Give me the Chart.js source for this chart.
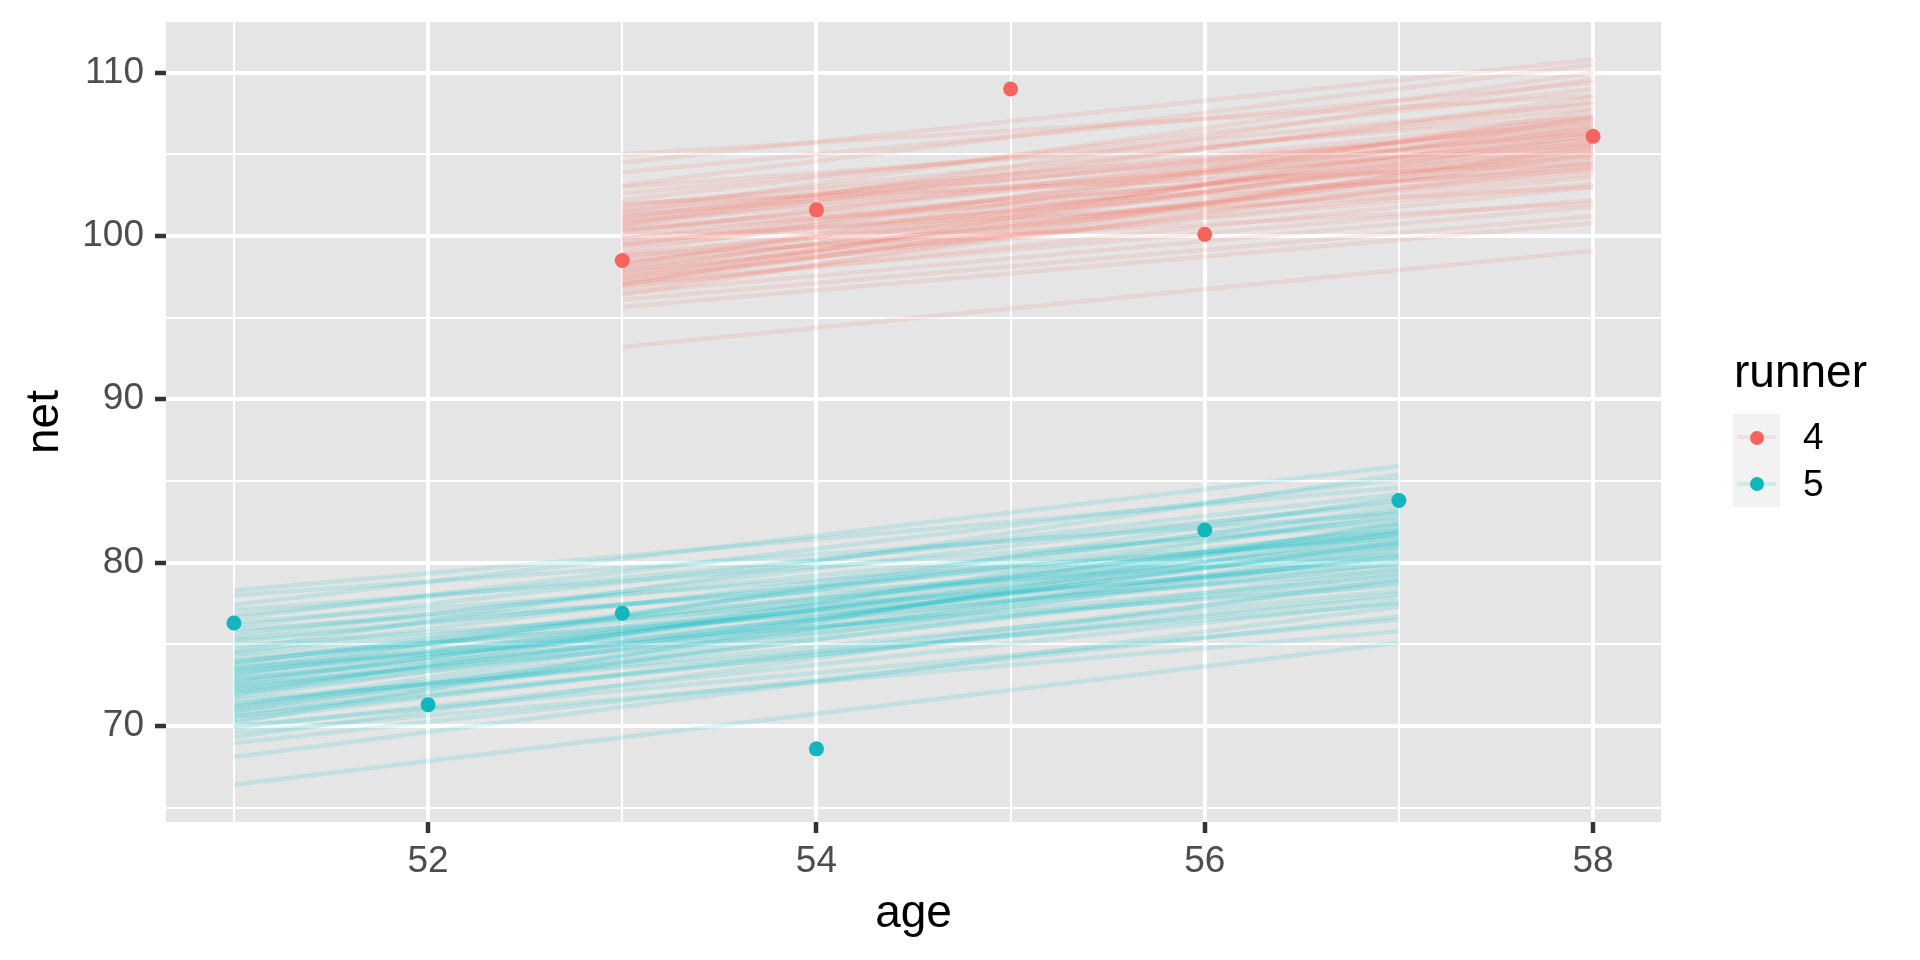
<!DOCTYPE html>
<html>
<head>
<meta charset="utf-8">
<script src="https://cdn.jsdelivr.net/npm/chart.js@4/dist/chart.umd.min.js"></script>
<style>
  body { margin: 0; background: #fff; font-family: "Liberation Sans", Arial, sans-serif; }
  #wrap { position: relative; width: 1920px; height: 960px; }
  #legend { position: absolute; left: 1733px; top: 343px; }
  #legend .title { font-size: 46px; color: #000; line-height: 56px; margin-left: 1px; }
  #legend .keys { position: absolute; top: 71px; left: 0; width: 47px; height: 93px; background: #F2F2F2; }
  #legend .row { position: absolute; left: 0; width: 47px; height: 46.5px; }
  #legend .seg { position: absolute; left: 4px; right: 4px; top: 21px; height: 4px; }
  #legend .dot { position: absolute; left: 16.5px; top: 16.5px; width: 14px; height: 14px; border-radius: 50%; }
  #legend .lab { position: absolute; left: 70px; font-size: 37px; line-height: 46.5px; color: #000; }
</style>
</head>
<body>
<div id="wrap">
  <canvas id="chart" width="1920" height="960"></canvas>
  <div id="legend"></div>
</div>
<script>
// observed points
const runners = ['4', '5'];
const runner4Age = [53, 54, 55, 56, 58];
const runner4Net = [98.5, 101.6, 109.0, 100.1, 106.1];
const runner5Age = [51, 52, 53, 54, 56, 57];
const runner5Net = [76.3, 71.3, 76.9, 68.6, 82.0, 83.8];

// posterior plausible lines, read at their ends (runner 4: age 53 -> 58, runner 5: age 51 -> 57)
const runner4Span = [53, 58];
const runner4Start = [105.0, 104.5, 103.9, 103.1, 103.0, 102.6, 102.2, 101.9, 101.8, 101.6,
  101.4, 101.3, 101.2, 101.0, 100.9, 100.8, 100.6, 100.5, 100.3, 100.2,
  100.0, 99.8, 99.6, 99.4, 99.3, 99.0, 98.9, 98.7, 98.5, 98.4,
  98.3, 98.1, 98.0, 97.9, 97.8, 97.7, 97.6, 97.5, 97.4, 97.3,
  97.2, 97.1, 97.0, 96.9, 96.7, 96.5, 96.4, 96.1, 95.65, 93.2,
  101.5, 100.7, 99.9, 102.0, 98.8, 97.0, 101.1, 100.4, 98.2, 99.5];
const runner4End = [108.6, 110.8, 109.4, 110.5, 107.3, 108.1, 109.0, 106.6, 107.8, 106.3,
  107.2, 105.6, 106.9, 107.0, 106.3, 105.9, 108.5, 104.8, 106.5, 107.1,
  105.3, 106.1, 104.3, 106.8, 105.1, 107.4, 104.0, 106.0, 105.5, 103.8,
  106.4, 104.6, 105.8, 103.2, 106.7, 104.9, 105.2, 103.6, 106.2, 104.2,
  105.0, 102.2, 107.3, 103.0, 104.5, 101.8, 105.6, 101.2, 100.8, 99.1,
  110.0, 109.6, 103.0, 104.4, 102.0, 105.4, 108.2, 104.1, 107.7, 105.7];

const runner5Span = [51, 57];
const runner5Start = [78.3, 78.0, 77.4, 77.1, 76.6, 76.35, 76.1, 75.9, 75.45, 75.15,
  74.65, 74.4, 74.2, 73.85, 73.7, 73.5, 73.4, 73.25, 73.0, 72.9,
  72.7, 72.5, 72.4, 72.0, 71.75, 71.4, 71.2, 71.0, 70.8, 70.55,
  70.35, 70.2, 69.9, 69.3, 68.95, 68.1, 66.4, 73.1, 74.9, 72.2,
  71.6, 75.7, 70.9, 73.6, 72.8, 71.9, 74.0, 70.0, 76.8, 69.6,
  72.3, 73.9, 71.3, 75.3, 72.6, 70.6, 74.5, 71.1, 73.3, 72.1];
const runner5End = [84.6, 83.0, 85.9, 82.4, 85.1, 81.5, 84.2, 80.5, 83.8, 82.0,
  85.4, 81.2, 79.5, 82.8, 81.8, 80.3, 83.4, 81.0, 82.2, 79.2,
  81.6, 78.9, 82.0, 80.0, 81.3, 78.3, 81.8, 79.6, 77.9, 80.6,
  78.8, 82.5, 77.6, 79.0, 76.7, 77.3, 75.1, 84.0, 79.9, 81.1,
  77.5, 82.7, 80.8, 78.6, 81.4, 83.1, 80.2, 76.5, 83.6, 75.8,
  80.4, 81.9, 79.3, 81.7, 82.3, 78.1, 83.2, 80.9, 79.8, 81.2];

const xTicks = [51, 52, 53, 54, 55, 56, 57, 58];
const yTicks = [65, 70, 75, 80, 85, 90, 95, 100, 105, 110];

const colors = { '4': '#F5645E', '5': '#12B6BC' };
const lineColors = { '4': 'rgba(248,118,109,0.14)', '5': 'rgba(0,191,196,0.14)' };

const FONT = '"Liberation Sans", Arial, sans-serif';

const datasets = [];
datasets.push({
  type: 'scatter', label: '4', order: 0,
  data: runner4Age.map((a, i) => ({ x: a, y: runner4Net[i] })),
  backgroundColor: colors['4'], borderWidth: 0, pointRadius: 7.5
});
datasets.push({
  type: 'scatter', label: '5', order: 0,
  data: runner5Age.map((a, i) => ({ x: a, y: runner5Net[i] })),
  backgroundColor: colors['5'], borderWidth: 0, pointRadius: 7.5
});
runner4Start.forEach((s, i) => {
  datasets.push({
    type: 'line', order: 1,
    data: [{ x: runner4Span[0], y: s }, { x: runner4Span[1], y: runner4End[i] }],
    borderColor: lineColors['4'], borderWidth: 4.5, pointRadius: 0
  });
});
runner5Start.forEach((s, i) => {
  datasets.push({
    type: 'line', order: 1,
    data: [{ x: runner5Span[0], y: s }, { x: runner5Span[1], y: runner5End[i] }],
    borderColor: lineColors['5'], borderWidth: 4.5, pointRadius: 0
  });
});

const panelBg = {
  id: 'panelBg',
  beforeDraw(chart) {
    const a = chart.chartArea, c = chart.ctx;
    c.save();
    c.fillStyle = '#E5E5E5';
    c.fillRect(a.left, a.top, a.right - a.left, a.bottom - a.top);
    c.restore();
  }
};

new Chart(document.getElementById('chart'), {
  type: 'scatter',
  data: { datasets },
  plugins: [panelBg],
  options: {
    responsive: false,
    devicePixelRatio: 1,
    animation: false,
    layout: { padding: { left: 0, right: 259, top: 22, bottom: 0 } },
    plugins: { legend: { display: false }, tooltip: { enabled: false } },
    scales: {
      x: {
        type: 'linear', min: 50.65, max: 58.35,
        afterBuildTicks: axis => { axis.ticks = xTicks.map(v => ({ value: v })); },
        afterFit: axis => { axis.height = 138; axis.paddingLeft = 0; axis.paddingRight = 0; },
        border: { display: false },
        grid: {
          color: '#FFFFFF',
          lineWidth: ctx => (ctx.tick && ctx.tick.value % 2 === 0 ? 4 : 2),
          tickLength: 11,
          tickWidth: 4.5,
          tickColor: ctx => (ctx.tick && ctx.tick.value % 2 === 0 ? '#333333' : 'rgba(0,0,0,0)')
        },
        ticks: {
          autoSkip: false, maxRotation: 0, padding: 7,
          color: '#4D4D4D', font: { family: FONT, size: 37 },
          callback: v => (v % 2 === 0 ? String(v) : '')
        },
        title: { display: true, text: 'age', color: '#000', font: { family: FONT, size: 46 }, padding: { top: 0, bottom: 18 } }
      },
      y: {
        type: 'linear', min: 64.12, max: 113.1,
        afterBuildTicks: axis => { axis.ticks = yTicks.map(v => ({ value: v })); },
        afterFit: axis => { axis.width = 166; axis.paddingTop = 0; axis.paddingBottom = 0; },
        border: { display: false },
        grid: {
          color: '#FFFFFF',
          lineWidth: ctx => (ctx.tick && ctx.tick.value % 10 === 0 ? 4 : 2),
          tickLength: 11,
          tickWidth: 4.5,
          tickColor: ctx => (ctx.tick && ctx.tick.value % 10 === 0 ? '#333333' : 'rgba(0,0,0,0)')
        },
        ticks: {
          autoSkip: false, padding: 11,
          color: '#4D4D4D', font: { family: FONT, size: 37 },
          callback: v => (v % 10 === 0 ? String(v) : '')
        },
        title: { display: true, text: 'net', color: '#000', font: { family: FONT, size: 46 }, padding: { top: 18, bottom: 0 } }
      }
    }
  }
});

// ggplot-style legend on the right
const legend = document.getElementById('legend');
let html = '<div class="title">runner</div><div class="keys">';
runners.forEach((r, i) => {
  html += '<div class="row" style="top:' + (i * 46.5) + 'px">' +
    '<div class="seg" style="background:' + lineColors[r] + '"></div>' +
    '<div class="dot" style="background:' + colors[r] + '"></div></div>';
});
html += '</div>';
runners.forEach((r, i) => {
  html += '<div class="lab" style="top:' + (71 + i * 46.5) + 'px">' + r + '</div>';
});
legend.innerHTML = html;
</script>
</body>
</html>
